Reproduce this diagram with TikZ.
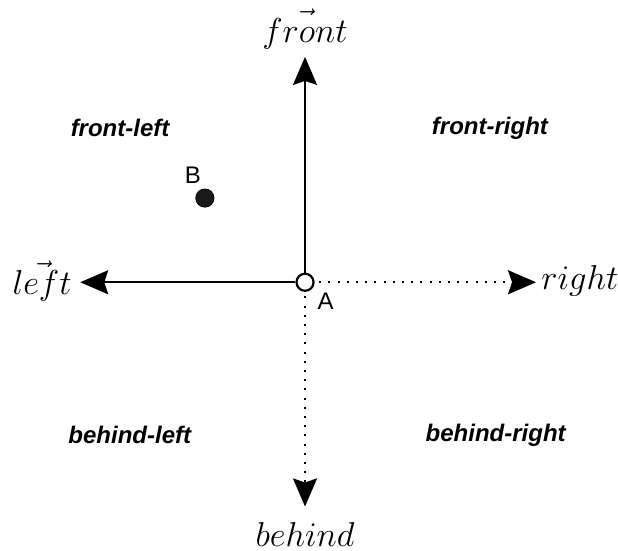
\documentclass[tikz,border=0pt]{standalone}
\usepackage{amsmath}
\usepackage{fontspec}
\setsansfont{Liberation Sans}
\usetikzlibrary{arrows.meta,positioning}

\begin{document}
\begin{tikzpicture}[
    axis/.style={line width=1pt, -{Stealth[length=14pt, width=12pt, inset=2pt]}},
    dotaxis/.style={axis, dash pattern=on 1pt off 3.6pt},
    dir/.style={font=\LARGE},
    region/.style={font=\sffamily\bfseries\itshape\large},
    pointlbl/.style={font=\sffamily\large}
]
\useasboundingbox (-5.36,-4.71) rectangle (5.50,4.96);

% The reference point and the other object
\node[circle, draw, line width=1.1pt, minimum size=0.3cm, inner sep=0pt] (A) at (0,0) {};
\node[pointlbl] (Alabel) at (0.36,-0.33) {A};
\node[circle, fill=black!90, draw=black, minimum size=0.32cm, inner sep=0pt] (B) at (-1.76,1.48) {};
\node[pointlbl] (Blabel) at (-1.97,1.88) {B};

% Ends of the axes
\coordinate (fronttip) at (0,3.96);
\coordinate (lefttip) at (-3.95,0);
\coordinate (righttip) at (4.06,0);
\coordinate (behindtip) at (0,-3.94);

% Axis labels
\node[dir] (front) at (0,4.45) {$\vec{front}$};
\node[dir] (left) at (-4.62,0.02) {$\vec{left}$};
\node[dir] (right) at (4.83,0.02) {$right$};
\node[dir] (behind) at (0,-4.43) {$behind$};

% Axes
\draw[axis] (A.north) -- (fronttip);
\draw[axis] (A.west) -- (lefttip);
\draw[dotaxis] (A.east) ++(0.08,0) -- (righttip);
\draw[dotaxis] (A.south) ++(0,-0.08) -- (behindtip);

% Regions
\node[region] (fl) at (-3.25,2.71) {front-left};
\node[region] (fr) at (3.25,2.71) {front-right};
\node[region] (bl) at (-3.08,-2.69) {behind-left};
\node[region] (br) at (3.35,-2.69) {behind-right};
\end{tikzpicture}
\end{document}
